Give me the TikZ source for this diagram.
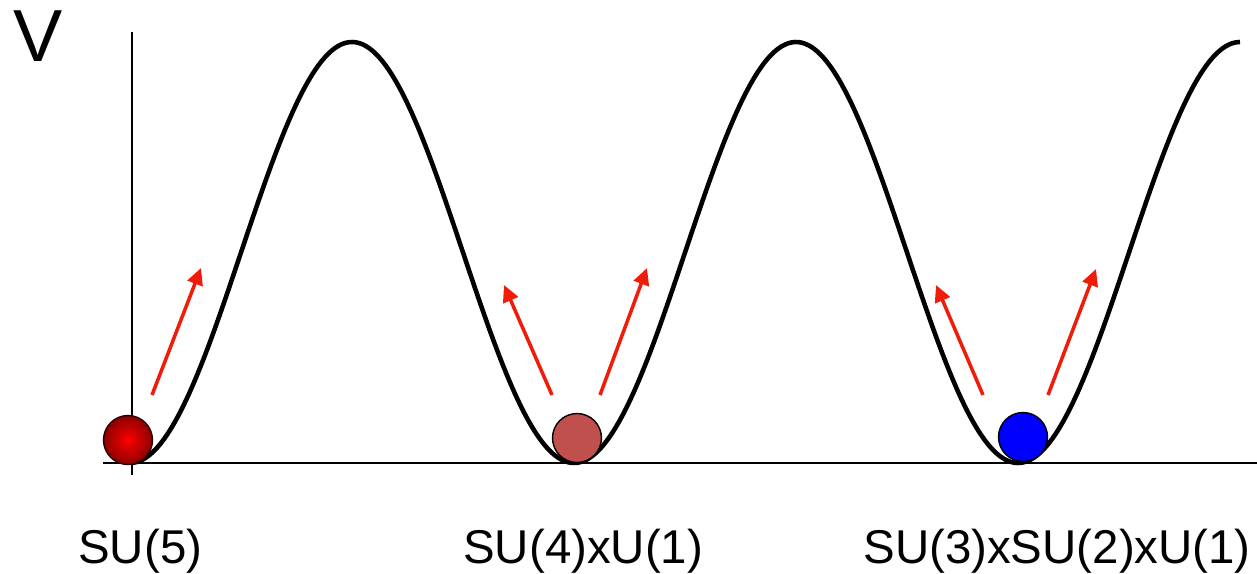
\documentclass[tikz,border=0pt]{standalone}
\usepackage{fontspec}
\setmainfont{Liberation Sans}
\definecolor{vred}{RGB}{240,28,10}
\definecolor{vrose}{RGB}{192,80,77}
\definecolor{vblue}{RGB}{0,0,255}
\usetikzlibrary{arrows.meta,positioning}

\begin{document}
\begin{tikzpicture}[x=0.02cm, y=-0.02cm,
    axis/.style={draw=black, line width=0.85pt},
    potential/.style={draw=black, line width=2.6pt, line join=round},
    push/.style={draw=vred, line width=2pt, -{Triangle[length=9.5pt,width=9pt]}},
    ball/.style={circle, draw=black, line width=0.8pt, minimum size=0.98cm, inner sep=0pt},
    group/.style={font=\fontsize{27}{31}\selectfont, anchor=base west, inner sep=0pt}
  ]
    \useasboundingbox (0,0) rectangle (1257,574);

    % Axes
    \coordinate (ytop) at (132,32);
    \coordinate (ybot) at (132,475);
    \coordinate (xleft) at (103,463);
    \coordinate (xright) at (1257,463);
    \draw[axis] (ytop) -- (ybot);
    \draw[axis] (xleft) -- (xright);
    \node[font=\fontsize{42}{46}\selectfont, anchor=base west, inner sep=0pt] (vlabel) at (13,62) {V};

    % Potential
    \draw[potential] plot[domain=132:1240, samples=240, smooth]
      (\x, {252.5-210.5*cos(0.8108108*(\x-352))});

    % Balls
    \node[ball, draw=black!85!red, inner color=red, outer color=red!55!black] (su5) at (128,440) {};
    \node[ball, fill=vrose] (su4) at (577,438) {};
    \node[ball, fill=vblue] (smg) at (1023,437) {};

    % Arrows
    \foreach \n/\ax/\ay/\bx/\by in {
      a/152/395/201/268,
      b/552/395/504/285,
      c/600/395/647/268,
      d/983/395/936/285,
      e/1048/395/1096/269
    }{
      \coordinate (\n0) at (\ax,\ay);
      \coordinate (\n1) at (\bx,\by);
      \draw[push] (\n0) -- (\n1);
    }

    % Labels
    \node[group] (l5) at (78,563) {SU(5)};
    \node[group] (l4) at (463,563) {SU(4)xU(1)};
    \node[group] (l3) at (863,563) {SU(3)xSU(2)xU(1)};
  \end{tikzpicture}
\end{document}
